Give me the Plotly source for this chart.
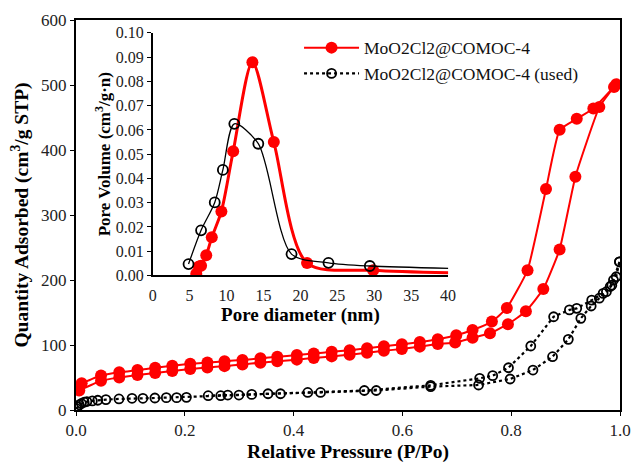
import plotly.graph_objects as go

# ---- Main isotherm data: MoO2Cl2@COMOC-4 ----
red_ads_p = [0.006, 0.046, 0.0795, 0.113, 0.1455, 0.177, 0.21, 0.2415, 0.273, 0.306, 0.339, 0.370, 0.406, 0.437,
             0.470, 0.503, 0.535, 0.566, 0.599, 0.632, 0.665, 0.697, 0.729, 0.761, 0.794, 0.827, 0.859, 0.889,
             0.918, 0.962, 0.989]
red_ads_v = [30, 45, 50, 54, 57, 60, 63, 65.5, 67.5, 70, 72.8, 75, 77.5, 80, 82.5, 85, 88, 91, 94, 97.5, 101.5,
             104, 111, 118, 132, 152, 186, 247, 359, 466, 497]
red_des_p = [0.993, 0.951, 0.9205, 0.889, 0.864, 0.830, 0.792, 0.7645, 0.729, 0.699, 0.665, 0.632, 0.599, 0.566,
             0.535, 0.503, 0.470, 0.437, 0.406, 0.370, 0.339, 0.306, 0.273, 0.2415, 0.21, 0.177, 0.1455, 0.113,
             0.0795, 0.046, 0.0104]
red_des_v = [501, 464, 448, 431, 340, 215, 157, 136, 123, 115, 108.7, 104.5, 101, 98, 95, 92, 89.5, 87, 84.5, 82,
             79.5, 77, 75, 73, 71, 68, 65, 61.5, 58, 53, 41]

# ---- Main isotherm data: MoO2Cl2@COMOC-4 (used) ----
blk_ads_p = [0.001, 0.003, 0.006, 0.01, 0.015, 0.02, 0.03, 0.04, 0.055, 0.079, 0.103, 0.123, 0.145, 0.166, 0.185,
             0.203, 0.266, 0.2995, 0.353, 0.4495, 0.552, 0.652, 0.740, 0.798, 0.840, 0.876, 0.905, 0.928, 0.947,
             0.962, 0.975, 0.985, 0.993, 0.999]
blk_ads_v = [2, 5, 8, 10, 12, 13, 14, 15, 16, 17, 18, 18, 18.5, 19, 19, 19.5, 22, 23, 25, 27, 30, 36, 38.5, 47.7,
             61.5, 82, 108.7, 141, 160, 172, 182, 192, 205, 228]
blk_des_p = [0.999, 0.988, 0.982, 0.969, 0.948, 0.9205, 0.907, 0.878, 0.836, 0.795, 0.766, 0.742, 0.652, 0.530,
             0.426, 0.376, 0.323, 0.279, 0.243]
blk_des_v = [228, 200, 190, 179.5, 169, 156.4, 154, 143.5, 98.5, 65, 52.8, 48.7, 38, 30, 27, 25, 24, 23, 22]

# ---- Inset: pore size distribution ----
psd_red_d = [5.9, 6.25, 6.55, 7.25, 8.0, 9.3, 10.9, 13.5, 16.4, 20.9, 29.85, 45]
psd_red_v = [0.0007, 0.0037, 0.004, 0.0083, 0.0157, 0.0264, 0.0512, 0.0879, 0.055, 0.0051, 0.0021, 0.0008]
psd_blk_d = [4.85, 6.55, 8.4, 9.5, 11.05, 14.3, 18.8, 23.8, 29.4, 45]
psd_blk_v = [0.0047, 0.0186, 0.0301, 0.0435, 0.0625, 0.0543, 0.0088, 0.0052, 0.0039, 0.0026]

name_a = "MoO2Cl2@COMOC-4"
name_b = "MoO2Cl2@COMOC-4 (used)"

RED = "#ff0000"
FONT = "Times New Roman, Liberation Serif, serif"

fig = go.Figure()

# main red
fig.add_trace(go.Scatter(x=red_ads_p, y=red_ads_v, mode="lines+markers", name=name_a, legendgroup="a",
                         line=dict(color=RED, width=2, shape="spline", smoothing=0.4),
                         marker=dict(color=RED, size=12)))
fig.add_trace(go.Scatter(x=red_des_p, y=red_des_v, mode="lines+markers", name=name_a, legendgroup="a",
                         showlegend=False,
                         line=dict(color=RED, width=2, shape="spline", smoothing=0.4),
                         marker=dict(color=RED, size=12)))
# main black
fig.add_trace(go.Scatter(x=blk_ads_p, y=blk_ads_v, mode="lines+markers", name=name_b, legendgroup="b",
                         line=dict(color="black", width=2.2, dash="dot"),
                         marker=dict(symbol="circle-open", color="black", size=9, line=dict(width=1.8))))
fig.add_trace(go.Scatter(x=blk_des_p, y=blk_des_v, mode="lines+markers", name=name_b, legendgroup="b",
                         showlegend=False,
                         line=dict(color="black", width=2.2, dash="dot"),
                         marker=dict(symbol="circle-open", color="black", size=9, line=dict(width=1.8))))

# inset
fig.add_trace(go.Scatter(x=psd_red_d, y=psd_red_v, xaxis="x2", yaxis="y2", mode="lines+markers",
                         showlegend=False,
                         line=dict(color=RED, width=3, shape="spline", smoothing=0.8),
                         marker=dict(color=RED, size=12)))
fig.add_trace(go.Scatter(x=psd_blk_d, y=psd_blk_v, xaxis="x2", yaxis="y2", mode="lines+markers",
                         showlegend=False,
                         line=dict(color="black", width=1.3, shape="spline", smoothing=0.8),
                         marker=dict(symbol="circle-open", color="black", size=10, line=dict(width=1.8))))

ax_common = dict(showgrid=False, zeroline=False, linecolor="black", ticks="outside", tickcolor="black",
                 automargin=False, tickfont=dict(family=FONT, size=17, color="#222"))

fig.update_layout(
    width=632, height=463,
    margin=dict(l=76, r=12, t=20, b=53),
    paper_bgcolor="white", plot_bgcolor="white",
    font=dict(family=FONT, color="black"),
    showlegend=True,
    legend=dict(x=0.41, y=0.975, xanchor="left", yanchor="top", bgcolor="rgba(0,0,0,0)",
                font=dict(family=FONT, size=17.5, color="#111"), itemwidth=55, tracegroupgap=0),
    xaxis=dict(**ax_common, range=[0, 1], dtick=0.2, tickformat=".1f", linewidth=2, mirror=True, ticklen=4,
               title=dict(text="<b>Relative Pressure (P/Po)</b>", font=dict(family=FONT, size=19.5), standoff=5)),
    yaxis=dict(**ax_common, range=[0, 600], dtick=100, linewidth=2, mirror=True, ticklen=4,
               title=dict(text="<b>Quantity Adsorbed (cm<sup>3</sup>/g STP)</b>", font=dict(family=FONT, size=19.5),
                          standoff=7)),
    xaxis2=dict(**ax_common, range=[0, 40], dtick=5, linewidth=1.5, ticklen=0, anchor="y2",
                domain=[0.141, 0.684], ticklabelstandoff=5,
                title=dict(text="<b>Pore diameter (nm)</b>", font=dict(family=FONT, size=19), standoff=3)),
    yaxis2=dict(**ax_common, range=[0, 0.1], dtick=0.01, tickformat=".2f", linewidth=1.5, ticklen=4,
                anchor="x2", domain=[0.345, 0.967],
                title=dict(text="<b>Pore Volume (cm<sup>3</sup>/g·n)</b>", font=dict(family=FONT, size=17),
                           standoff=1)),
)
fig.update_layout(xaxis2_tickfont_size=16, yaxis2_tickfont_size=16)

fig.write_html("out.html")
